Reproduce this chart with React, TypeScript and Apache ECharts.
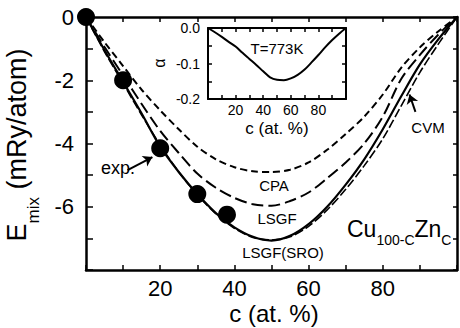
import React, { useEffect, useRef } from "react";
import * as echarts from "echarts";

// Concentration grid (at. % Zn)
const conc = [0, 5, 10, 15, 20, 25, 30, 35, 40, 45, 50, 55, 60, 65, 70, 75, 80, 85, 90, 95, 100];
// Mixing energies (mRy/atom)
const cpa = [0, -0.8, -1.55, -2.3, -2.95, -3.55, -4.1, -4.5, -4.75, -4.88, -4.9, -4.83, -4.6, -4.2, -3.7, -3.15, -2.45, -1.6, -0.96, -0.45, 0];
const lsgf = [0, -0.95, -1.85, -2.75, -3.6, -4.3, -4.95, -5.4, -5.72, -5.92, -5.97, -5.82, -5.55, -5.1, -4.6, -4.0, -3.15, -1.95, -1.2, -0.55, 0];
const lsgfSro = [0, -1.05, -2.05, -3.05, -4.1, -4.9, -5.6, -6.2, -6.65, -6.95, -7.07, -6.92, -6.55, -6.0, -5.3, -4.5, -3.55, -2.5, -1.5, -0.7, 0];
const cvm = [0, -1.1, -2.1, -3.1, -4.05, -4.9, -5.62, -6.22, -6.68, -6.97, -7.05, -6.95, -6.62, -6.1, -5.45, -4.7, -3.85, -2.8, -1.75, -0.85, 0];
// Experimental points
const expC = [0, 10, 20, 30, 38];
const expE = [0, -2.0, -4.15, -5.6, -6.25];
// Inset: SRO parameter alpha at T = 773 K
const insetC = [0, 5, 10, 15, 20, 25, 30, 35, 40, 45, 50, 55, 60, 65, 70, 75, 80, 85, 90, 95, 100];
const alpha = [0, -0.012, -0.025, -0.039, -0.052, -0.07, -0.087, -0.104, -0.122, -0.139, -0.146, -0.147, -0.142, -0.132, -0.117, -0.097, -0.076, -0.054, -0.034, -0.016, 0];
// Tick labels
const mainXLabels = [20, 40, 60, 80];
const mainYLabels = [0, -2, -4, -6];
const insetXLabels = [20, 40, 60, 80];
const insetYLabels = ["0.0", "-0.1", "-0.2"];

const FONT = '"Liberation Sans", Arial, Helvetica, sans-serif';
const K = "#000";

export default function App() {
  const ref = useRef<HTMLDivElement>(null);
  useEffect(() => {
    if (!ref.current) return;
    const chart = echarts.init(ref.current, undefined, { renderer: "svg" });

    const axisLine = (w: number) => ({ show: true, onZero: false, lineStyle: { color: K, width: w } });
    const tick = (len: number) => ({ show: true, inside: true, length: len, lineStyle: { color: K, width: 1.5 } });

    const lineSeries = (name: string, vals: number[], type: any, width: number) => ({
      name,
      type: "line",
      xAxisIndex: 0,
      yAxisIndex: 0,
      data: conc.map((c, i) => [c, vals[i]]),
      smooth: 0.3,
      showSymbol: false,
      symbol: "none",
      lineStyle: { color: K, width, type },
      z: 3,
    });

    const option: any = {
      animation: false,
      backgroundColor: "#fff",
      textStyle: { fontFamily: FONT },
      grid: [
        { left: 86, top: 17, width: 373, height: 253, show: false },
        { left: 208, top: 28, width: 138, height: 71, show: true, backgroundColor: "#fff", borderWidth: 0, z: 5 },
      ],
      xAxis: [
        {
          gridIndex: 0, type: "value", position: "bottom", min: 0, max: 100, interval: 10,
          axisLine: axisLine(2.5), axisTick: tick(5), splitLine: { show: false },
          axisLabel: {
            color: K, fontSize: 22, fontFamily: FONT, margin: 7,
            formatter: (v: number) => (mainXLabels.includes(Math.round(v)) ? String(Math.round(v)) : ""),
          },
        },
        {
          gridIndex: 0, type: "value", position: "top", min: 0, max: 100, interval: 10,
          axisLine: axisLine(2.5), axisTick: tick(5), splitLine: { show: false }, axisLabel: { show: false },
        },
        {
          gridIndex: 1, type: "value", position: "bottom", min: 0, max: 100, interval: 10,
          axisLine: axisLine(2), axisTick: tick(4), splitLine: { show: false },
          axisLabel: {
            color: K, fontSize: 14, fontFamily: FONT, margin: 4,
            formatter: (v: number) => (insetXLabels.includes(Math.round(v)) ? String(Math.round(v)) : ""),
          },
          z: 6,
        },
        {
          gridIndex: 1, type: "value", position: "top", min: 0, max: 100, interval: 10,
          axisLine: axisLine(2), axisTick: tick(4), splitLine: { show: false }, axisLabel: { show: false }, z: 6,
        },
      ],
      yAxis: [
        {
          gridIndex: 0, type: "value", position: "left", min: -8, max: 0, interval: 1,
          axisLine: axisLine(2.5), axisTick: tick(7), splitLine: { show: false },
          axisLabel: {
            color: K, fontSize: 22, fontFamily: FONT, margin: 12,
            formatter: (v: number) => (mainYLabels.includes(Math.round(v)) ? String(Math.round(v)) : ""),
          },
        },
        {
          gridIndex: 0, type: "value", position: "right", min: -8, max: 0, interval: 1,
          axisLine: axisLine(2.5), axisTick: tick(4), splitLine: { show: false }, axisLabel: { show: false },
        },
        {
          gridIndex: 1, type: "value", position: "left", min: -0.2, max: 0, interval: 0.05,
          axisLine: axisLine(2), axisTick: tick(4), splitLine: { show: false },
          axisLabel: {
            color: K, fontSize: 14, fontFamily: FONT, margin: 8,
            formatter: (v: number) => {
              const r = Math.round(v * 100);
              if (r === 0) return insetYLabels[0];
              if (r === -10) return insetYLabels[1];
              if (r === -20) return insetYLabels[2];
              return "";
            },
          },
          z: 6,
        },
        {
          gridIndex: 1, type: "value", position: "right", min: -0.2, max: 0, interval: 0.05,
          axisLine: axisLine(2), axisTick: tick(4), splitLine: { show: false }, axisLabel: { show: false }, z: 6,
        },
      ],
      series: [
        lineSeries("CPA", cpa, [7, 4], 2),
        lineSeries("LSGF", lsgf, [12, 5], 2),
        lineSeries("CVM", cvm, [9, 3], 1.6),
        lineSeries("LSGF(SRO)", lsgfSro, "solid", 2.2),
        {
          name: "exp.",
          type: "scatter",
          xAxisIndex: 0,
          yAxisIndex: 0,
          data: expC.map((c, i) => [c, expE[i]]),
          symbol: "circle",
          symbolSize: 18,
          itemStyle: { color: K, opacity: 1 },
          clip: false,
          z: 4,
        },
        {
          name: "arrows",
          type: "lines",
          coordinateSystem: "cartesian2d",
          xAxisIndex: 0,
          yAxisIndex: 0,
          symbol: ["none", "arrow"],
          symbolSize: 9,
          lineStyle: { color: K, width: 2, opacity: 1 },
          data: [
            { coords: [[11.2, -4.84], [17.9, -4.43]] },
            { coords: [[88.8, -3.0], [87.2, -2.45]] },
          ],
          z: 4,
        },
        {
          name: "alpha",
          type: "line",
          xAxisIndex: 2,
          yAxisIndex: 2,
          data: insetC.map((c, i) => [c, alpha[i]]),
          smooth: 0.3,
          showSymbol: false,
          symbol: "none",
          lineStyle: { color: K, width: 2 },
          z: 7,
        },
      ],
      graphic: [
        {
          type: "text", x: 28, y: 145, rotation: Math.PI / 2, z: 10,
          style: {
            text: "{a|E}{b|mix}{a| (mRy/atom)}",
            align: "center", verticalAlign: "middle", fill: K,
            rich: {
              a: { fontSize: 27, lineHeight: 27, fontFamily: FONT, fill: K, verticalAlign: "bottom", padding: [0, 0, 11, 0] },
              b: { fontSize: 17, lineHeight: 17, fontFamily: FONT, fill: K, verticalAlign: "bottom" },
            },
          },
        },
        { type: "text", x: 274, y: 313, z: 10, style: { text: "c (at. %)", font: `24px ${FONT}`, fill: K, align: "center", verticalAlign: "middle" } },
        { type: "text", x: 277, y: 128, z: 10, style: { text: "c (at. %)", font: `17px ${FONT}`, fill: K, align: "center", verticalAlign: "middle" } },
        { type: "text", x: 159, y: 63, rotation: Math.PI / 2, z: 10, style: { text: "α", font: `16px ${FONT}`, fill: K, align: "center", verticalAlign: "middle" } },
        { type: "text", x: 277, y: 48, z: 10, style: { text: "T=773K", font: `15px ${FONT}`, fill: K, align: "center", verticalAlign: "middle" } },
        { type: "text", x: 274, y: 185, z: 10, style: { text: "CPA", font: `15px ${FONT}`, fill: K, align: "center", verticalAlign: "middle" } },
        { type: "text", x: 277, y: 218, z: 10, style: { text: "LSGF", font: `15px ${FONT}`, fill: K, align: "center", verticalAlign: "middle" } },
        { type: "text", x: 283, y: 252, z: 10, style: { text: "LSGF(SRO)", font: `15px ${FONT}`, fill: K, align: "center", verticalAlign: "middle" } },
        { type: "text", x: 428, y: 127, z: 10, style: { text: "CVM", font: `15px ${FONT}`, fill: K, align: "center", verticalAlign: "middle" } },
        { type: "text", x: 118, y: 168, z: 10, style: { text: "exp.", font: `18px ${FONT}`, fill: K, align: "center", verticalAlign: "middle" } },
        {
          type: "text", x: 347, y: 247, z: 10,
          style: {
            text: "{a|Cu}{s|100-C}{a|Zn}{s|C}",
            align: "left", verticalAlign: "bottom", fill: K,
            rich: {
              a: { fontSize: 23, lineHeight: 23, fontFamily: FONT, fill: K, verticalAlign: "bottom", padding: [0, 0, 7, 0] },
              s: { fontSize: 14, lineHeight: 14, fontFamily: FONT, fill: K, verticalAlign: "bottom" },
            },
          },
        },
      ],
    };

    chart.setOption(option);
    return () => chart.dispose();
  }, []);

  return (
    <div
      ref={ref}
      style={{ position: "fixed", left: 0, top: 0, width: 460, height: 328, background: "#fff" }}
    />
  );
}
